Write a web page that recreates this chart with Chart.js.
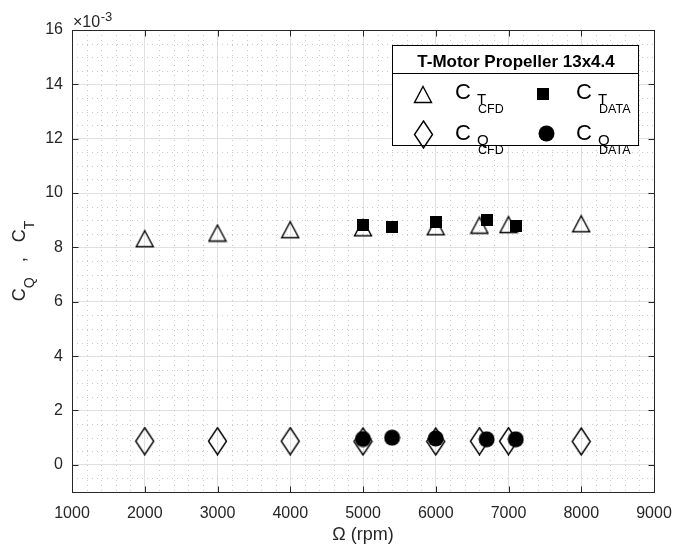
<!DOCTYPE html>
<html>
<head>
<meta charset="utf-8">
<script src="https://cdn.jsdelivr.net/npm/chart.js@4/dist/chart.umd.min.js"></script>
<style>
  html, body { margin: 0; padding: 0; background: #fff; }
  #wrap { position: relative; width: 676px; height: 551px; }
</style>
</head>
<body>
<div id="wrap"><canvas id="chart" width="676" height="551"></canvas></div>
<script>
// Rotor speed (rpm) for the CFD runs and for the measurements
const rpmCfd  = [2000, 3000, 4000, 5000, 6000, 6600, 7000, 8000];
const rpmData = [5000, 5400, 6000, 6700, 7100];

// Thrust and torque coefficients, in units of 1e-3
const ctCfd  = [8.32, 8.53, 8.65, 8.72, 8.76, 8.82, 8.84, 8.87];
const cqCfd  = [0.87, 0.87, 0.87, 0.86, 0.86, 0.87, 0.87, 0.86];
const ctData = [8.82, 8.76, 8.92, 9.02, 8.78];
const cqData = [0.95, 1.00, 0.97, 0.94, 0.94];

// Axis ticks
const xTicks = [1000, 2000, 3000, 4000, 5000, 6000, 7000, 8000, 9000];
const yTicks = [0, 2, 4, 6, 8, 10, 12, 14, 16];

const legendTitle = 'T-Motor Propeller 13x4.4';

const FONT = '"Liberation Sans", Arial, Helvetica, sans-serif';
const INK = '#262626';
Chart.defaults.font.family = FONT;

// Marker glyphs as small canvases (used for the points and in the legend)
function markerCanvas(w, h, paint) {
  const c = document.createElement('canvas');
  c.width = w; c.height = h;
  paint(c.getContext('2d'));
  return c;
}
const triangleMark = markerCanvas(20, 19, g => {
  g.beginPath();
  g.moveTo(10, 1.5); g.lineTo(18.5, 17.5); g.lineTo(1.5, 17.5); g.closePath();
  g.lineWidth = 1.4; g.strokeStyle = '#000'; g.stroke();
});
const diamondMark = markerCanvas(21, 29, g => {
  g.beginPath();
  g.moveTo(10.5, 1); g.lineTo(19.5, 14.5); g.lineTo(10.5, 28); g.lineTo(1.5, 14.5); g.closePath();
  g.lineWidth = 1.4; g.strokeStyle = '#000'; g.stroke();
});
const squareMark = markerCanvas(12, 12, g => {
  g.fillStyle = '#000'; g.fillRect(0, 0, 12, 12);
});
const circleMark = markerCanvas(17, 17, g => {
  g.beginPath(); g.arc(8.5, 8.5, 8, 0, Math.PI * 2);
  g.fillStyle = '#000'; g.fill();
});

const pts = (xs, ys) => xs.map((x, i) => ({ x, y: ys[i] }));

function series(label, xs, ys, mark, order) {
  return {
    label, data: pts(xs, ys), pointStyle: mark, order,
    pointRadius: 9, pointHoverRadius: 9, showLine: false
  };
}

// Minor dotted grid, axis box with inward ticks, exponent and axis titles, legend
const decor = {
  id: 'decor',
  beforeDatasetsDraw(chart) {
    const { ctx, chartArea: a, scales: { x, y } } = chart;
    ctx.save();
    ctx.strokeStyle = '#c9c9c9';
    ctx.lineWidth = 1;
    ctx.setLineDash([1, 4]);
    ctx.beginPath();
    for (let i = 1; i < 40; i++) {
      if (i % 5 === 0) continue;
      const px = Math.round(x.getPixelForValue(1000 + i * 200)) + 0.5;
      ctx.moveTo(px, a.top); ctx.lineTo(px, a.bottom);
    }
    for (let i = 1; i < 34; i++) {
      const v = -1 + i * 0.5;
      if (Number.isInteger(v) && v % 2 === 0) continue;
      const py = Math.round(y.getPixelForValue(v)) + 0.5;
      ctx.moveTo(a.left, py); ctx.lineTo(a.right, py);
    }
    ctx.stroke();
    ctx.restore();
  },
  afterDatasetsDraw(chart) {
    const { ctx, chartArea: a, scales: { x, y } } = chart;
    const L = Math.round(a.left) + 0.5, R = Math.round(a.right) + 0.5;
    const T = Math.round(a.top) + 0.5, B = Math.round(a.bottom) + 0.5;
    ctx.save();
    ctx.strokeStyle = INK;
    ctx.lineWidth = 1;
    ctx.strokeRect(L, T, R - L, B - T);
    ctx.beginPath();
    xTicks.forEach(v => {
      const px = Math.round(x.getPixelForValue(v)) + 0.5;
      ctx.moveTo(px, B); ctx.lineTo(px, B - 6);
      ctx.moveTo(px, T); ctx.lineTo(px, T + 6);
    });
    yTicks.forEach(v => {
      const py = Math.round(y.getPixelForValue(v)) + 0.5;
      ctx.moveTo(L, py); ctx.lineTo(L + 6, py);
      ctx.moveTo(R, py); ctx.lineTo(R - 6, py);
    });
    ctx.stroke();

    // exponent label
    ctx.fillStyle = INK;
    ctx.textBaseline = 'alphabetic';
    ctx.textAlign = 'left';
    ctx.font = `16px ${FONT}`;
    ctx.fillText('\u00d710', 73, 27);
    const w = ctx.measureText('\u00d710').width;
    ctx.font = `13px ${FONT}`;
    ctx.fillText('-3', 73 + w + 0.5, 21);

    // x-axis title
    ctx.font = `18px ${FONT}`;
    ctx.textAlign = 'center';
    ctx.fillText('\u03a9 (rpm)', (a.left + a.right) / 2, 540);

    // y-axis title with subscripts
    const parts = [['C', 18, 0], ['Q', 14, 9], ['   ,   ', 18, 0], ['C', 18, 0], ['T', 14, 9]];
    let total = 0;
    parts.forEach(p => { ctx.font = `${p[1]}px ${FONT}`; total += ctx.measureText(p[0]).width; });
    ctx.translate(25, (a.top + a.bottom) / 2);
    ctx.rotate(-Math.PI / 2);
    ctx.textAlign = 'left';
    let cx = -total / 2;
    parts.forEach(p => {
      ctx.font = `${p[1]}px ${FONT}`;
      ctx.fillText(p[0], cx, p[2]);
      cx += ctx.measureText(p[0]).width;
    });
    ctx.restore();
  },
  afterDraw(chart) {
    const { ctx } = chart;
    ctx.save();
    const bx = 392, by = 45, bw = 246, bh = 100;
    ctx.fillStyle = '#fff';
    ctx.fillRect(bx, by, bw, bh);
    ctx.strokeStyle = '#000';
    ctx.lineWidth = 1;
    ctx.strokeRect(bx + 0.5, by + 0.5, bw, bh);
    ctx.beginPath();
    ctx.moveTo(bx, by + 28.5); ctx.lineTo(bx + bw, by + 28.5);
    ctx.stroke();

    ctx.fillStyle = '#000';
    ctx.textBaseline = 'alphabetic';
    ctx.textAlign = 'center';
    ctx.font = `bold 17px ${FONT}`;
    ctx.fillText(legendTitle, 516, 67);

    const mark = (m, cx, cy) => ctx.drawImage(m, Math.round(cx - m.width / 2), Math.round(cy - m.height / 2));
    const label = (x0, base, sub, subsub) => {
      ctx.textAlign = 'left';
      ctx.font = `22px ${FONT}`;
      ctx.fillText('C', x0, base);
      ctx.font = `15px ${FONT}`;
      ctx.fillText(sub, x0 + 22, base + 5);
      ctx.font = `12.5px ${FONT}`;
      ctx.fillText(subsub, x0 + 23, base + 14);
    };
    mark(triangleMark, 423, 94);
    label(455, 99, 'T', 'CFD');
    mark(squareMark, 543, 94);
    label(576, 99, 'T', 'DATA');
    mark(diamondMark, 423, 134);
    label(455, 140, 'Q', 'CFD');
    mark(circleMark, 546, 133);
    label(576, 140, 'Q', 'DATA');
    ctx.restore();
  }
};

new Chart(document.getElementById('chart'), {
  type: 'scatter',
  data: {
    datasets: [
      series('C_T DATA', rpmData, ctData, squareMark, 0),
      series('C_Q DATA', rpmData, cqData, circleMark, 0),
      series('C_T CFD', rpmCfd, ctCfd, triangleMark, 1),
      series('C_Q CFD', rpmCfd, cqCfd, diamondMark, 1)
    ]
  },
  options: {
    responsive: false,
    animation: false,
    events: [],
    devicePixelRatio: 1,
    layout: { padding: { top: 30, right: 22, left: 0, bottom: 0 } },
    plugins: { legend: { display: false }, tooltip: { enabled: false } },
    scales: {
      x: {
        type: 'linear', min: 1000, max: 9000,
        afterBuildTicks: s => { s.ticks = xTicks.map(v => ({ value: v })); },
        afterFit: s => { s.height = 59; s.paddingLeft = 0; s.paddingRight = 0; },
        ticks: { color: INK, font: { size: 16 }, padding: 12, maxRotation: 0, autoSkip: false,
                 callback: v => String(v) },
        grid: { color: '#e0e0e0', lineWidth: 1, drawTicks: false },
        border: { display: false }
      },
      y: {
        type: 'linear', min: -1, max: 16,
        afterBuildTicks: s => { s.ticks = yTicks.map(v => ({ value: v })); },
        afterFit: s => { s.width = 72; s.paddingTop = 0; s.paddingBottom = 0; },
        ticks: { color: INK, font: { size: 16 }, padding: 9, autoSkip: false,
                 callback: v => String(v) },
        grid: { color: '#e0e0e0', lineWidth: 1, drawTicks: false },
        border: { display: false }
      }
    }
  },
  plugins: [decor]
});
</script>
</body>
</html>
